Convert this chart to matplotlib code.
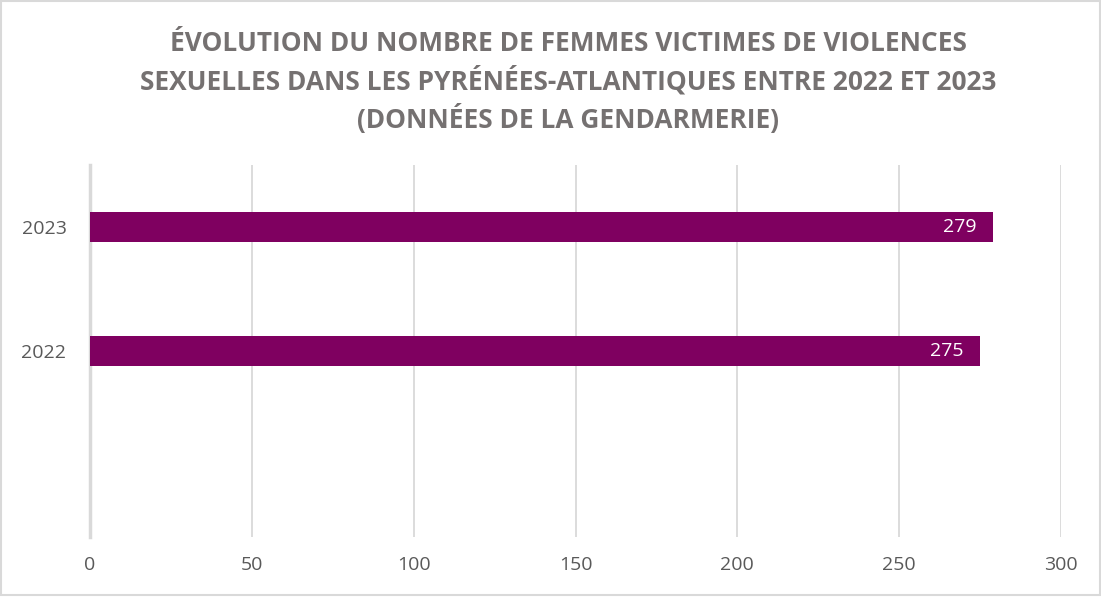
import matplotlib
matplotlib.use("Agg")
import matplotlib.pyplot as plt
from matplotlib import font_manager
from matplotlib.patches import Rectangle

years = ["2022", "2023"]
victims = [275, 279]
x_ticks = [0, 50, 100, 150, 200, 250, 300]
title = ("ÉVOLUTION DU NOMBRE DE FEMMES VICTIMES DE VIOLENCES\n"
         "SEXUELLES DANS LES PYRÉNÉES-ATLANTIQUES ENTRE 2022 ET 2023\n"
         "(DONNÉES DE LA GENDARMERIE)")

installed = {f.name for f in font_manager.fontManager.ttflist}
title_font = "Liberation Sans Narrow" if "Liberation Sans Narrow" in installed else "Open Sans"
body_font = "Open Sans"

text_grey = "#595959"
grid_grey = "#d9d9d9"
bar_colour = "#7f0060"

fig = plt.figure(figsize=(11.01, 5.97), dpi=100)
ax = fig.add_axes([90 / 1101, 1 - 537 / 597, (1061 - 90) / 1101, (537 - 165) / 597])

# category slots: an empty slot at the bottom, then 2022 and 2023
positions = [1, 2]
bars = ax.barh(positions, victims, height=0.235, color=bar_colour, zorder=3)
for rect, v in zip(bars, victims):
    ax.text(v - 5, rect.get_y() + rect.get_height() / 2, f"{v}",
            ha="right", va="center", color="white", fontsize=14,
            family=body_font, zorder=4)

ax.set_xlim(0, 300)
ax.set_ylim(-0.5, 2.5)
ax.set_xticks(x_ticks)
ax.set_xticklabels([str(t) for t in x_ticks], family=body_font, fontsize=14,
                   color=text_grey)
ax.set_yticks(positions)
ax.set_yticklabels(years, family=body_font, fontsize=14, color=text_grey)
ax.tick_params(axis="both", length=0)
ax.tick_params(axis="x", pad=14)
ax.tick_params(axis="y", pad=17)

ax.grid(axis="x", color=grid_grey, linewidth=1.3, zorder=0)
for side in ["top", "right", "bottom"]:
    ax.spines[side].set_visible(False)
ax.spines["left"].set_color(grid_grey)
ax.spines["left"].set_linewidth(2.5)
ax.spines["left"].set_zorder(2)

fig.text(568 / 1101, 1 - 82 / 597, title, ha="center", va="center",
         family=title_font, fontweight="bold", fontsize=18.9,
         color="#757171", linespacing=1.38)

fig.patches.append(Rectangle((0.001, 0.003), 0.998, 0.995, transform=fig.transFigure,
                             fill=False, edgecolor=grid_grey, linewidth=1.5))

fig.savefig("out.png", dpi=100, facecolor="white")
